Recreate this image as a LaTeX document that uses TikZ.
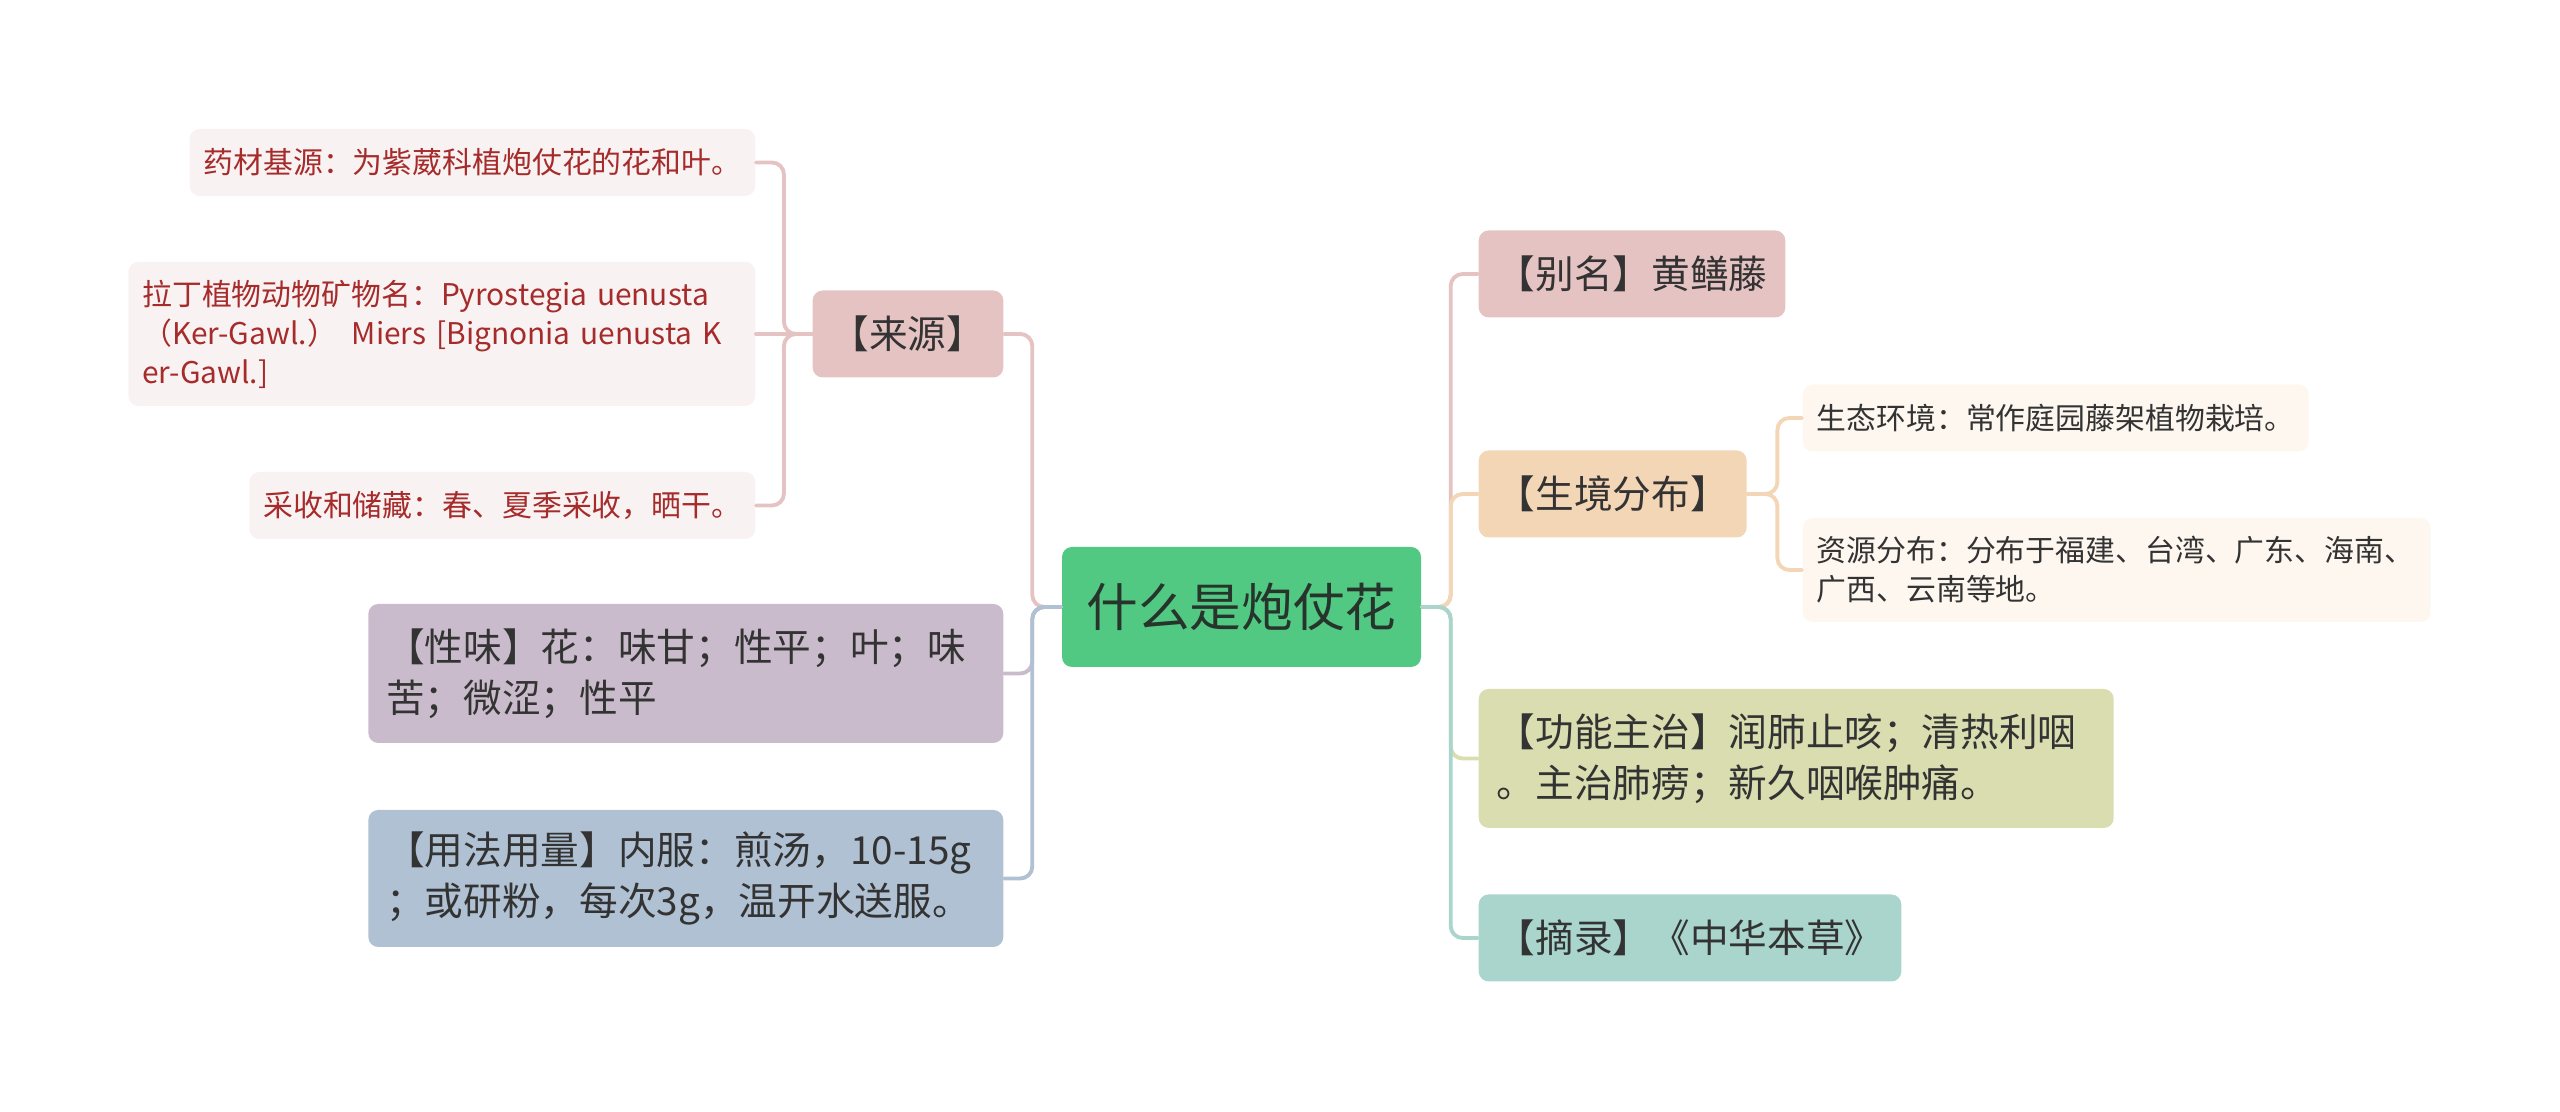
\documentclass[tikz,border=0pt]{standalone}
\usepackage{fontspec}
\setmainfont{Noto Sans CJK SC}
\definecolor{rootgreen}{RGB}{82,201,130}
\definecolor{rootink}{RGB}{38,52,44}
\definecolor{darkink}{RGB}{51,51,51}
\definecolor{leafink}{RGB}{166,43,43}
\definecolor{pinkc}{RGB}{230,195,195}
\definecolor{mauvec}{RGB}{201,187,203}
\definecolor{bluec}{RGB}{176,193,211}
\definecolor{peachc}{RGB}{243,214,181}
\definecolor{olivec}{RGB}{217,221,175}
\definecolor{tealc}{RGB}{169,213,205}
\definecolor{pinkleaf}{RGB}{249,242,242}
\definecolor{peachleaf}{RGB}{253,247,240}
\begin{document}
\begin{tikzpicture}[cap=round]
        % Styles
        \tikzstyle{root box}=[rounded corners=0.1cm,fill=rootgreen,text=rootink,inner xsep=0.245cm,minimum height=1.2cm,font=\fontsize{14.7}{17}\selectfont]
        \tikzstyle{topic box}=[rounded corners=0.1cm,text=darkink,inner xsep=0.18cm,minimum height=0.87cm,align=left,font=\fontsize{11}{14.4}\selectfont]
        \tikzstyle{leaf box}=[rounded corners=0.1cm,inner xsep=0.14cm,minimum height=0.67cm,align=left,font=\fontsize{8.5}{11.1}\selectfont]
        \tikzstyle{link}=[line width=1.1pt,rounded corners=0.12cm]
        %The graphic
        \useasboundingbox (0,0) rectangle (25.6,11.12);
        %centre
        \node[root box] (root) at (12.415,5.05) {什么是炮仗花};
        %left branches
        \node[topic box,fill=pinkc,anchor=east] (laiyuan) at (10.04,7.78) {【来源】};
        \node[topic box,fill=mauvec,anchor=east,text width=5.99cm,minimum height=1.39cm] (xingwei) at (10.04,4.385)
            {【性味】花：味甘；性平；叶；味\\苦；微涩；性平};
        \node[topic box,fill=bluec,anchor=east,text width=5.99cm,minimum height=1.37cm] (yongfa) at (10.04,2.335)
            {【用法用量】内服：煎汤，\mbox{10-15g}\\；或研粉，每次3g，温开水送服。};
        \begin{scope}[every node/.style={leaf box,fill=pinkleaf,text=leafink,anchor=east}]
            \node (yaocai) at (7.56,9.495) {药材基源：为紫葳科植炮仗花的花和叶。};
            \node[text width=5.99cm,minimum height=1.44cm] (lading) at (7.56,7.78)
                {拉丁植物动物矿物名：Pyrostegia uenusta\\\mbox{（Ker-Gawl.） Miers [Bignonia uenusta K}\\er-Gawl.]};
            \node (caishou) at (7.56,6.065) {采收和储藏：春、夏季采收，晒干。};
        \end{scope}
        %right branches
        \node[topic box,fill=pinkc,anchor=west] (bieming) at (14.78,8.38) {【别名】黄鳝藤};
        \node[topic box,fill=peachc,anchor=west] (shengjing) at (14.78,6.18) {【生境分布】};
        \node[topic box,fill=olivec,anchor=west,text width=5.99cm,minimum height=1.39cm] (gongneng) at (14.78,3.535)
            {【功能主治】润肺止咳；清热利咽\\。主治肺痨；新久咽喉肿痛。};
        \node[topic box,fill=tealc,anchor=west] (zhailu) at (14.78,1.74) {【摘录】《中华本草》};
        \begin{scope}[every node/.style={leaf box,fill=peachleaf,text=darkink,anchor=west}]
            \node (shengtai) at (18.02,6.94) {生态环境：常作庭园藤架植物栽培。};
            \node[text width=6.0cm,minimum height=1.04cm] (ziyuan) at (18.02,5.42)
                {资源分布：分布于福建、台湾、广东、海南、\\广西、云南等地。};
        \end{scope}
        %links
        \foreach \child/\col in {laiyuan/pinkc,xingwei/mauvec,yongfa/bluec}
            \draw[link,\col] (root.west) -- ++(-0.29,0) |- (\child.east);
        \foreach \child/\col in {bieming/pinkc,shengjing/peachc,gongneng/olivec,zhailu/tealc}
            \draw[link,\col] (root.east) -- ++(0.29,0) |- (\child.west);
        \foreach \leaf in {yaocai,caishou}
            \draw[link,pinkc] (laiyuan.west) -- ++(-0.28,0) |- (\leaf.east);
        \draw[link,pinkc] (laiyuan.west) -- (lading.east);
        \foreach \leaf in {shengtai,ziyuan}
            \draw[link,peachc] (shengjing.east) -- ++(0.30,0) |- (\leaf.west);
\end{tikzpicture}
\end{document}
